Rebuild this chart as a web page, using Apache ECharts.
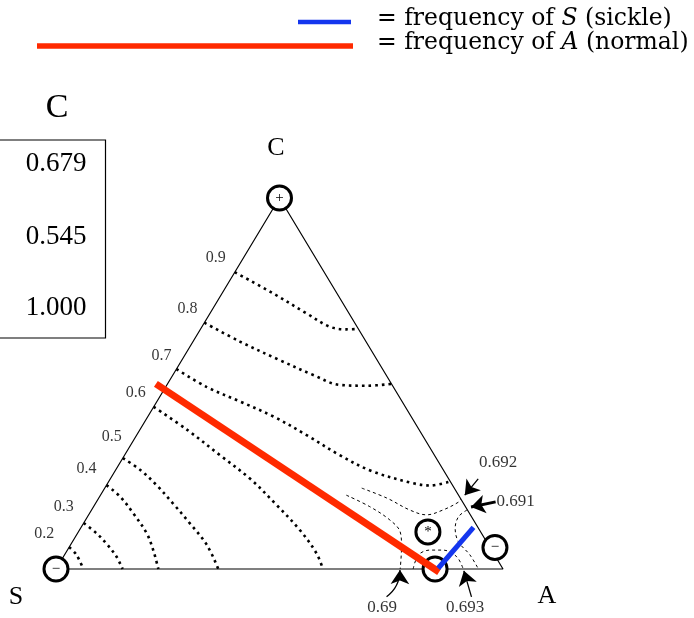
<!DOCTYPE html>
<html>
<head>
<meta charset="utf-8">
<script src="https://cdn.jsdelivr.net/npm/echarts@6/dist/echarts.min.js"></script>
<style>
  html, body { margin: 0; padding: 0; background: #fff; }
  #chart { width: 694px; height: 618px; }
</style>
</head>
<body>
<div id="chart"></div>
<script>
// Allele-frequency simplex. Every point is [fA, fC]; fS = 1 - fA - fC.
const vertexS = [0, 0];
const vertexA = [1, 0];
const vertexC = [0, 1];

// Mean-fitness level curves (coarse levels, dotted)
const levels = ['0.9', '0.8', '0.7', '0.6', '0.5', '0.4', '0.3', '0.2'];
const level09 = [[0, 0.800], [0.114, 0.743], [0.216, 0.689], [0.286, 0.653], [0.327, 0.646], [0.353, 0.647]];
const level08 = [[0, 0.664], [0.105, 0.613], [0.219, 0.563], [0.314, 0.523], [0.387, 0.496], [0.448, 0.494], [0.501, 0.499]];
const level07 = [[0, 0.539], [0.091, 0.491], [0.187, 0.451], [0.281, 0.411], [0.380, 0.361], [0.481, 0.307], [0.574, 0.264], [0.684, 0.231], [0.725, 0.225], [0.764, 0.236]];
const level06 = [[0, 0.437], [0.106, 0.375], [0.213, 0.307], [0.313, 0.243], [0.404, 0.175], [0.493, 0.105], [0.562, 0.042], [0.597, 0]];
const level05 = [[0, 0.299], [0.055, 0.267], [0.112, 0.226], [0.173, 0.177], [0.238, 0.123], [0.305, 0.065], [0.363, 0]];
const level04 = [[0, 0.226], [0.046, 0.195], [0.098, 0.150], [0.155, 0.096], [0.192, 0.051], [0.229, 0]];
const level03 = [[0, 0.124], [0.043, 0.096], [0.078, 0.069], [0.119, 0.033], [0.149, 0]];
const level02 = [[0, 0.059], [0.027, 0.038], [0.061, 0]];

// Fine levels near the A corner (dashed)
const fineLevels = ['0.692', '0.69', '0.693', '0.691'];
const fine0692 = [[0.575, 0.218], [0.645, 0.191], [0.712, 0.159], [0.756, 0.146], [0.786, 0.159], [0.810, 0.180], [0.811, 0.189]];
const fine069 = [[0.550, 0.199], [0.618, 0.168], [0.681, 0.132], [0.720, 0.100], [0.743, 0.060], [0.770, 0]];
const fine0693 = [[0.799, 0], [0.792, 0.038], [0.811, 0.051], [0.840, 0.051], [0.880, 0.033], [0.911, 0]];
const fine0691 = [[0.840, 0.159], [0.830, 0.141], [0.838, 0.110], [0.863, 0.074], [0.907, 0.038], [0.945, 0]];

// Arrow tails / tips for the fine-level call-outs, and where their numbers sit
const calloutTails = [[0.823, 0.243], [0.777, -0.075], [0.967, -0.075], [0.893, 0.181]];
const calloutTips = [[0.815, 0.199], [0.771, -0.003], [0.915, -0.005], [0.845, 0.167]];
const calloutText = [[0.846, 0.286], [0.782, -0.105], [0.968, -0.105], [0.937, 0.183]];

// Equilibria: sign of stability and location
const equilibriumMarks = ['+', '\u2212', '\u2212', '*', ''];
const equilibriumPoints = [[0, 1], [0, 0], [0.953, 0.058], [0.782, 0.100], [0.848, 0]];

// Allele-frequency segments
const freqA = [[-0.026, 0.499], [0.861, -0.008]];
const freqS = [[0.854, 0.002], [0.878, 0.112]];

// Fitness table for genotype C
const tableTitle = 'C';
const tableValues = ['0.679', '0.545', '1.000'];

// --- layout ---
const SERIF = '"Liberation Serif", "Times New Roman", serif';
const WIDE_SERIF = '"DejaVu Serif", serif';
const labelOffsets = [[-19, -14], [-17, -14], [-15, -13], [-18, -14], [-11, -21], [-20, -16], [-20, -16], [-25, -13]];
const RED = '#ff2a00';
const BLUE = '#1436ee';

const tern = p => [p[0] + p[1] / 2, p[1]];

const coarse = [level09, level08, level07, level06, level05, level04, level03, level02];
const fine = [fine0692, fine069, fine0693, fine0691];

const series = [];

series.push({
  type: 'line', name: 'simplex', z: 1, clip: false, silent: true,
  showSymbol: false, symbol: 'none',
  data: [vertexS, vertexA, vertexC, vertexS].map(tern),
  lineStyle: { color: '#000', width: 1.2 }
});

coarse.forEach((pts, i) => {
  series.push({
    type: 'line', name: 'W=' + levels[i], z: 2, clip: false, silent: true,
    symbol: 'none', smooth: 0.35,
    data: pts.map(tern),
    lineStyle: { color: '#000', width: 2.6, type: [2.6, 4], cap: 'butt' }
  });
});

fine.forEach((pts, i) => {
  series.push({
    type: 'line', name: 'W=' + fineLevels[i], z: 2, clip: false, silent: true,
    symbol: 'none', smooth: 0.35,
    data: pts.map(tern),
    lineStyle: { color: '#000', width: 1, type: [3, 3] }
  });
});

series.push({
  type: 'lines', coordinateSystem: 'cartesian2d', z: 3, silent: true, clip: false,
  symbol: ['none', 'arrow'], symbolSize: 14,
  data: calloutTails.map((t, i) => ({
    coords: [tern(t), tern(calloutTips[i])],
    lineStyle: { curveness: i === 1 ? -0.25 : 0, width: i === 3 ? 3 : 1.3 }
  })),
  lineStyle: { color: '#000', width: 1.3, opacity: 1 }
});

series.push({
  type: 'scatter', name: 'equilibria', z: 5, clip: false, silent: true,
  symbol: 'circle', symbolSize: 24,
  data: equilibriumPoints.map((p, i) => ({ value: tern(p), mark: equilibriumMarks[i] })),
  itemStyle: { color: '#fff', borderColor: '#000', borderWidth: 3, opacity: 1 },
  label: {
    show: true, position: 'inside', color: '#000',
    fontFamily: SERIF, fontSize: 15,
    formatter: p => p.data.mark
  }
});

series.push({
  type: 'line', name: 'A', z: 6, clip: false, silent: true, symbol: 'none',
  data: freqA.map(tern),
  lineStyle: { color: RED, width: 7, cap: 'butt' }
});
series.push({
  type: 'line', name: 'S', z: 6, clip: false, silent: true, symbol: 'none',
  data: freqS.map(tern),
  lineStyle: { color: BLUE, width: 5, cap: 'butt' }
});

series.push({
  type: 'scatter', name: 'level labels', z: 7, clip: false, silent: true,
  symbolSize: 0,
  data: coarse.map((pts, i) => ({
    value: tern(pts[0]),
    label: { offset: labelOffsets[i], formatter: levels[i] }
  })),
  label: { show: true, position: 'inside', color: '#000', fontFamily: SERIF, fontSize: 16 }
});

series.push({
  type: 'scatter', name: 'fine labels', z: 7, clip: false, silent: true,
  symbolSize: 0,
  data: calloutText.map((p, i) => ({
    value: tern(p),
    label: { formatter: fineLevels[i] }
  })),
  label: { show: true, position: 'inside', color: '#000', fontFamily: SERIF, fontSize: 17 }
});

const legendText = {
  fontFamily: WIDE_SERIF, fontSize: 23.5, fill: '#000',
  rich: { i: { fontFamily: WIDE_SERIF, fontSize: 23.5, fontStyle: 'italic' } }
};

const option = {
  animation: false,
  backgroundColor: '#fff',
  grid: { left: 56, top: 198, width: 447, height: 371 },
  xAxis: { type: 'value', min: 0, max: 1, show: false },
  yAxis: { type: 'value', min: 0, max: 1, show: false },
  series: series,
  graphic: [
    { type: 'line', shape: { x1: 298, y1: 22, x2: 351, y2: 22 }, style: { stroke: BLUE, lineWidth: 4.5 } },
    { type: 'line', shape: { x1: 37, y1: 46, x2: 353, y2: 46 }, style: { stroke: RED, lineWidth: 5.5 } },
    { type: 'text', x: 377, y: 19, style: Object.assign({ text: '= frequency of {i|S} (sickle)', verticalAlign: 'middle' }, legendText) },
    { type: 'text', x: 377, y: 43, style: Object.assign({ text: '= frequency of {i|A} (normal)', verticalAlign: 'middle' }, legendText) },

    { type: 'rect', shape: { x: -2, y: 140, width: 107.5, height: 198 }, style: { fill: 'none', stroke: '#000', lineWidth: 1.2 } },
    { type: 'text', x: 57, y: 108, style: { text: tableTitle, fontFamily: SERIF, fontSize: 34, fill: '#000', align: 'center', verticalAlign: 'middle' } },
    { type: 'text', x: 56, y: 164, style: { text: tableValues[0], fontFamily: SERIF, fontSize: 27, fill: '#000', align: 'center', verticalAlign: 'middle' } },
    { type: 'text', x: 56, y: 237, style: { text: tableValues[1], fontFamily: SERIF, fontSize: 27, fill: '#000', align: 'center', verticalAlign: 'middle' } },
    { type: 'text', x: 56, y: 308, style: { text: tableValues[2], fontFamily: SERIF, fontSize: 27, fill: '#000', align: 'center', verticalAlign: 'middle' } },

    { type: 'text', x: 276, y: 148, style: { text: 'C', fontFamily: SERIF, fontSize: 26, fill: '#000', align: 'center', verticalAlign: 'middle' } },
    { type: 'text', x: 16, y: 597, style: { text: 'S', fontFamily: SERIF, fontSize: 26, fill: '#000', align: 'center', verticalAlign: 'middle' } },
    { type: 'text', x: 547, y: 596, style: { text: 'A', fontFamily: SERIF, fontSize: 26, fill: '#000', align: 'center', verticalAlign: 'middle' } }
  ]
};

const chart = echarts.init(document.getElementById('chart'), null, { renderer: 'canvas' });
chart.setOption(option);
</script>
</body>
</html>
